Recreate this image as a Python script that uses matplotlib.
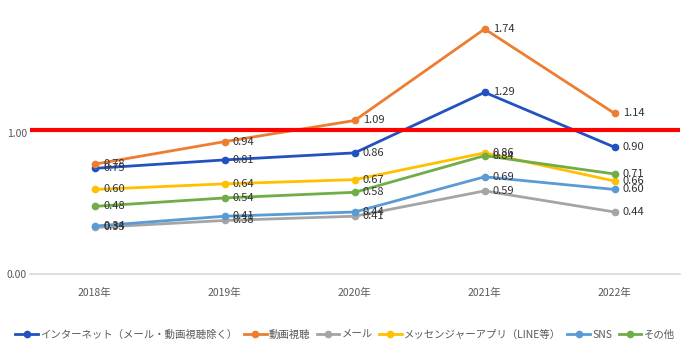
import matplotlib.pyplot as plt

plt.rcParams['font.family'] = ['Noto Sans CJK JP', 'DejaVu Sans']

years = ["2018年", "2019年", "2020年", "2021年", "2022年"]
names = ["インターネット（メール・動画視聴除く）", "動画視聴", "メール",
         "メッセンジャーアプリ（LINE等）", "SNS", "その他"]
internet = [0.75, 0.81, 0.86, 1.29, 0.90]
video = [0.78, 0.94, 1.09, 1.74, 1.14]
mail = [0.33, 0.38, 0.41, 0.59, 0.44]
messenger = [0.60, 0.64, 0.67, 0.86, 0.66]
sns = [0.34, 0.41, 0.44, 0.69, 0.60]
other = [0.48, 0.54, 0.58, 0.84, 0.71]
threshold = 1.02

series = [internet, video, mail, messenger, sns, other]
colors = ["#2152C0", "#ED7D31", "#A5A5A5", "#FFC000", "#5B9BD5", "#70AD47"]

fig = plt.figure(figsize=(6.9, 3.6), dpi=100)
ax = fig.add_axes([0.043, 0.239, 0.942, 0.747])

x = list(range(len(years)))
for vals, name, c in zip(series, names, colors):
    ax.plot(x, vals, color=c, lw=2, marker="o", ms=4.5, label=name)
    for xi, v in zip(x, vals):
        ax.annotate(f"{v:.2f}", (xi, v), xytext=(6, 0), textcoords="offset points",
                    va="center", ha="left", fontsize=8, color="#333333")

ax.axhline(threshold, color="#FF0000", lw=3, zorder=5)

ax.set_xlim(-0.5, 4.5)
ax.set_ylim(0, 1.91)
ax.set_yticks([0, 1])
ax.set_yticklabels(["0.00", "1.00"])
ax.set_xticks(x)
ax.set_xticklabels(years)
ax.tick_params(length=0, labelsize=7.5, colors="#595959")
ax.tick_params(axis="x", pad=10)
ax.tick_params(axis="y", pad=2)
for s in ["top", "right", "left"]:
    ax.spines[s].set_visible(False)
ax.spines["bottom"].set_color("#D9D9D9")
ax.spines["bottom"].set_linewidth(1.2)

leg = fig.legend(loc="center", bbox_to_anchor=(0.5, 0.07), ncol=6, frameon=False,
                 fontsize=7.5, handlelength=2.2, handletextpad=0.2, columnspacing=0.6)
for t in leg.get_texts():
    t.set_color("#595959")

fig.savefig("out.png", dpi=100)
